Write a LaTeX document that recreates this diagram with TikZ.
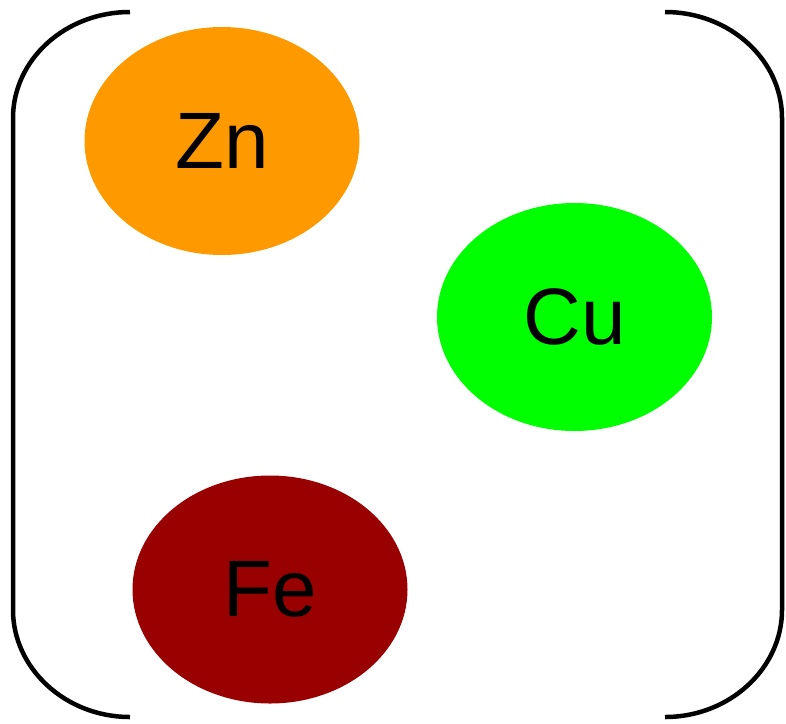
\documentclass[tikz,border=0pt]{standalone}
\usepackage{fontspec}
\setmainfont{Liberation Sans}
\usetikzlibrary{shapes.geometric}
\definecolor{znorange}{HTML}{FF9900}
\definecolor{cugreen}{HTML}{00FF00}
\definecolor{fered}{HTML}{990000}
\begin{document}
\begin{tikzpicture}[x=1pt,y=-1pt,
  elem/.style={ellipse,minimum width=275pt,minimum height=228pt,inner sep=0pt,
    font=\fontsize{80}{96}\selectfont,text=black},
  bracket/.style={line width=4.5pt,draw=black}]
\useasboundingbox (0,0) rectangle (786,723);
\node[elem,fill=znorange] (zn) at (222,141) {Zn};
\node[elem,fill=cugreen] (cu) at (574.5,317) {Cu};
\node[elem,fill=fered] (fe) at (270,589.5) {Fe};
% left bracket
\draw[bracket] (130,12) .. controls (65,12) and (13,60) .. (13,118)
  -- (13,610) .. controls (13,668) and (65,717) .. (130,717);
% right bracket
\draw[bracket] (665,12) .. controls (730,12) and (782,60) .. (782,118)
  -- (782,610) .. controls (782,668) and (730,717) .. (665,717);
\end{tikzpicture}
\end{document}
